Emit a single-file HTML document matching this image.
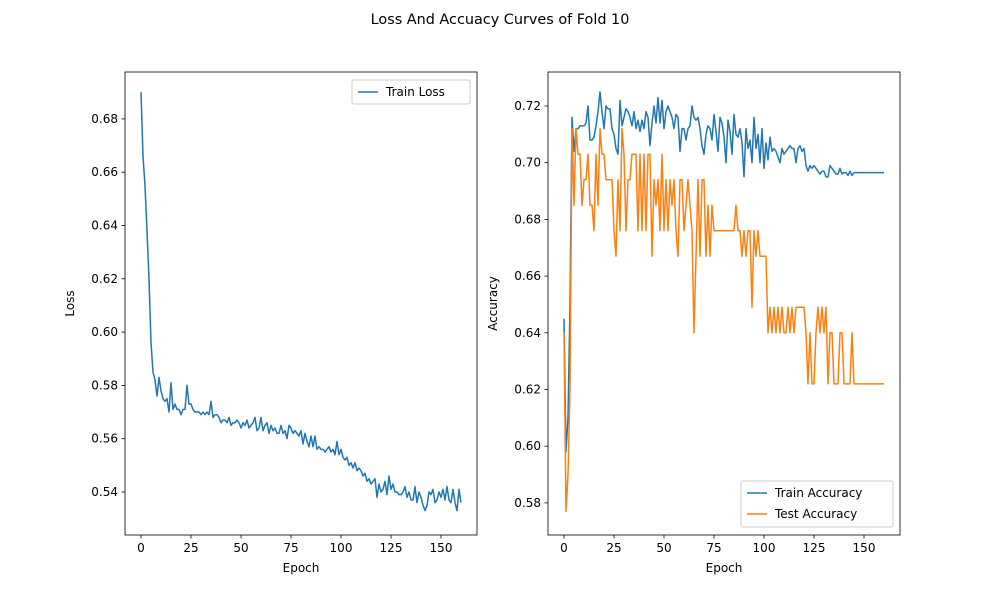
<!DOCTYPE html>
<html><head><meta charset="utf-8"><style>
body{margin:0;background:#fff;font-family:"Liberation Sans","DejaVu Sans",sans-serif}
svg text{font-family:"DejaVu Sans","Liberation Sans",sans-serif;font-size:12px;fill:#000}
</style></head><body>
<svg id="fig" width="1000" height="600" xmlns="http://www.w3.org/2000/svg">
<rect width="1000" height="600" fill="#fff"/>
<text x="500" y="24" text-anchor="middle" style="font-size:14.4px">Loss And Accuacy Curves of Fold 10</text>
</svg>
<script>
const trainLoss=[.690,.666,.655,.638,.620,.596,.585,.582,.576,.583,
.578,.575,.574,.575,.570,.581,.571,.573,.571,.571,
.569,.571,.571,.580,.573,.573,.571,.570,.570,.570,
.569,.570,.569,.570,.569,.574,.568,.569,.569,.568,
.566,.567,.567,.566,.568,.565,.566,.566,.567,.566,
.564,.566,.565,.567,.564,.565,.566,.568,.563,.564,
.568,.563,.565,.566,.562,.565,.563,.564,.562,.562,
.565,.562,.563,.560,.565,.564,.562,.563,.562,.561,
.563,.558,.562,.559,.557,.561,.557,.561,.556,.557,
.556,.556,.555,.556,.557,.555,.556,.554,.559,.554,
.556,.553,.552,.553,.550,.551,.549,.551,.548,.549,
.548,.546,.547,.544,.545,.543,.544,.545,.538,.543,
.540,.541,.544,.539,.546,.541,.543,.540,.540,.539,
.539,.540,.542,.538,.540,.537,.537,.542,.536,.540,
.538,.535,.533,.535,.540,.539,.541,.536,.537,.540,
.538,.541,.537,.542,.537,.536,.541,.536,.533,.541,.536];
const trainAcc=[.645,.598,.61,.65,.716,.704,.712,.712,.713,.713,
.713,.714,.72,.708,.708,.709,.713,.718,.725,.718,
.712,.720,.719,.719,.712,.710,.705,.703,.722,.713,
.716,.719,.718,.716,.713,.718,.712,.715,.711,.715,
.712,.718,.716,.706,.714,.720,.714,.723,.714,.722,
.712,.718,.720,.718,.716,.712,.717,.716,.704,.712,
.712,.708,.712,.713,.720,.716,.715,.716,.712,.706,
.703,.710,.713,.712,.708,.717,.711,.704,.716,.714,
.709,.700,.715,.711,.703,.717,.710,.709,.712,.707,
.695,.712,.705,.708,.700,.716,.705,.710,.700,.712,
.698,.707,.701,.709,.704,.705,.704,.702,.700,.705,
.703,.704,.705,.706,.705,.705,.700,.705,.706,.704,
.705,.699,.697,.699,.698,.699,.698,.697,.696,.697,
.697,.695,.695,.699,.698,.697,.696,.696,.698,.696,
.6965,.6965,.6955,.697,.6955,.6965,.6965,.6965,.6965,.6965,
.6965,.6965,.6965,.6965,.6965,.6965,.6965,.6965,.6965,.6965,.6965];
const testAcc=[.640,.577,.59,.62,.712,.685,.712,.703,.703,.685,
.694,.694,.703,.685,.685,.676,.703,.685,.712,.703,
.703,.694,.694,.694,.694,.676,.667,.694,.676,.712,
.703,.676,.694,.694,.703,.703,.703,.676,.703,.676,
.703,.676,.703,.703,.667,.694,.685,.694,.676,.703,
.676,.694,.676,.694,.685,.694,.676,.667,.694,.694,
.676,.685,.694,.685,.676,.640,.667,.694,.667,.694,
.694,.667,.685,.667,.685,.676,.676,.676,.676,.676,
.676,.676,.676,.676,.676,.676,.685,.676,.676,.667,
.676,.667,.676,.676,.649,.676,.667,.676,.667,.667,
.667,.667,.640,.649,.640,.649,.640,.649,.640,.649,
.640,.640,.649,.640,.649,.640,.649,.649,.649,.649,
.649,.640,.622,.640,.622,.622,.640,.649,.640,.649,
.640,.649,.622,.640,.640,.622,.622,.622,.640,.640,
.622,.622,.622,.622,.640,.622,.622,.622,.622,.622,
.622,.622,.622,.622,.622,.622,.622,.622,.622,.622,.622];
const xTicks=[0,25,50,75,100,125,150];
const lossTicks=[0.54,0.56,0.58,0.60,0.62,0.64,0.66,0.68];
const accTicks=[0.58,0.60,0.62,0.64,0.66,0.68,0.70,0.72];

const NS="http://www.w3.org/2000/svg";
const svg=document.getElementById('fig');
function mk(tag,attrs,parent){const e=document.createElementNS(NS,tag);for(const k in attrs)e.setAttribute(k,attrs[k]);(parent||svg).appendChild(e);return e;}

function axes(name,L,T,R,B,xs,ys,yticks,ylabel,series,legend){
  const g=mk('g',{});
  
  
  series.forEach(s=>{
    const d=s.data.map((v,i)=>(i?'L':'M')+xs(i).toFixed(2)+','+ys(v).toFixed(2)).join('');
    const p=mk('path',{d:d,fill:'none',stroke:s.color,'stroke-width':1.5,'stroke-linejoin':'round'},g);
    
    
  });
  const fr=mk('rect',{x:L,y:T,width:R-L,height:B-T,fill:'none',stroke:'#000','stroke-width':0.8},g);
  
  
  xTicks.forEach(t=>{
    const x=xs(t);
    mk('line',{x1:x,x2:x,y1:B,y2:B+3.5,stroke:'#000','stroke-width':0.8},g);
    const tx=mk('text',{x:x,y:B+17,'text-anchor':'middle'},g);tx.textContent=t;
    
    
  });
  yticks.forEach(t=>{
    const y=ys(t);
    mk('line',{x1:L-3.5,x2:L,y1:y,y2:y,stroke:'#000','stroke-width':0.8},g);
    const tx=mk('text',{x:L-7,y:y+4,'text-anchor':'end'},g);tx.textContent=t.toFixed(2);
    
    
  });
  const xl=mk('text',{x:(L+R)/2,y:B+37,'text-anchor':'middle'},g);xl.textContent='Epoch';
  
  
  const yl=mk('text',{x:0,y:0,'text-anchor':'middle',transform:`translate(${L-51},${(T+B)/2}) rotate(-90)`},g);yl.textContent=ylabel;
  
  
  const lg=mk('g',{},g);
  
  
  mk('rect',{x:legend.x,y:legend.y,width:legend.w,height:legend.h,rx:2,fill:'#fff',stroke:'#ccc','stroke-width':1},lg);
  series.forEach((s,i)=>{
    const y=legend.y+12+i*21;
    mk('line',{x1:legend.x+6,x2:legend.x+26,y1:y,y2:y,stroke:s.color,'stroke-width':1.5},lg);
    const t=mk('text',{x:legend.x+34,y:y+4},lg);t.textContent=s.label;
    
    
  });
}
const xsL=i=>141+(i)*2, ysL=v=>492-(v-0.54)/0.02*53.3;
axes('loss-axes',125,72,477,535,xsL,ysL,lossTicks,'Loss',
 [{name:'train-loss-line',data:trainLoss,color:'#1f77b4',label:'Train Loss'}],{x:352,y:80,w:118,h:24});
const xsR=i=>564+i*2, ysR=v=>106-(v-0.72)/0.02*56.7;
axes('accuracy-axes',548,72,900,535,xsR,ysR,accTicks,'Accuracy',
 [{name:'train-accuracy-line',data:trainAcc,color:'#1f77b4',label:'Train Accuracy'},
  {name:'test-accuracy-line',data:testAcc,color:'#ff7f0e',label:'Test Accuracy'}],{x:741,y:481,w:152,h:46});
</script>
</body></html>
